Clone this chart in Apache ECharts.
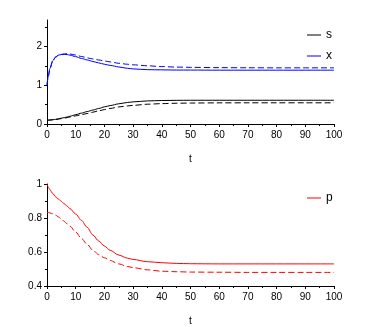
<!DOCTYPE html>
<html><head><meta charset="utf-8">
<script src="https://cdn.jsdelivr.net/npm/echarts@6/dist/echarts.min.js"></script>
<style>html,body{margin:0;padding:0;background:#fff}#c{width:382px;height:327px}</style>
</head><body><div id="c"></div>
<script>
// time points
const T = [0,0.5,1,2,3,4,5,6,7,8,10,12,14,16,18,20,22,25,28,30,35,40,45,50,60,70,80,90,100];
// top panel
const xSolid  = [1.0,1.25,1.43,1.63,1.73,1.775,1.79,1.795,1.79,1.775,1.735,1.69,1.65,1.61,1.575,1.54,1.51,1.47,1.435,1.42,1.40,1.395,1.39,1.39,1.387,1.387,1.387,1.387,1.387];
const xDashed = [1.0,1.24,1.42,1.62,1.72,1.77,1.795,1.805,1.81,1.805,1.775,1.74,1.705,1.675,1.65,1.625,1.60,1.565,1.54,1.525,1.50,1.48,1.467,1.46,1.452,1.449,1.447,1.447,1.447];
const sSolid  = [0.1,0.1,0.102,0.11,0.12,0.135,0.15,0.165,0.18,0.2,0.24,0.28,0.32,0.36,0.40,0.44,0.475,0.52,0.555,0.57,0.595,0.605,0.61,0.612,0.612,0.612,0.612,0.612,0.612];
const sDashed = [0.1,0.1,0.102,0.108,0.115,0.125,0.14,0.15,0.165,0.18,0.21,0.24,0.27,0.305,0.34,0.37,0.40,0.44,0.465,0.48,0.51,0.525,0.535,0.54,0.545,0.546,0.546,0.546,0.546];
// bottom panel
const pSolid  = [1.0,0.98,0.967,0.944,0.925,0.911,0.898,0.884,0.87,0.855,0.823,0.786,0.745,0.70,0.665,0.635,0.61,0.582,0.564,0.556,0.543,0.537,0.533,0.531,0.53,0.53,0.53,0.53,0.53];
const pDashed = [0.834,0.833,0.83,0.825,0.817,0.806,0.794,0.78,0.766,0.752,0.717,0.68,0.645,0.61,0.585,0.566,0.55,0.53,0.515,0.508,0.495,0.487,0.484,0.482,0.481,0.48,0.48,0.48,0.48];
// ticks
const xTicks = {min:0, max:100, interval:10};
const yTopTicks = [0,1,2];
const yBotTicks = [0.4,0.6,0.8,1.0];

function pairs(v){ return T.map((t,i)=>[t, v[i]]); }

const FONT = 'Liberation Sans, Arial, sans-serif';
function baseAxis(){
  return {
    axisLine:{show:true, onZero:false, lineStyle:{color:'#000', width:1}},
    axisTick:{show:true, inside:false, length:3, lineStyle:{color:'#000'}},
    minorTick:{show:true, splitNumber:2, length:2, lineStyle:{color:'#000'}},
    splitLine:{show:false},
    axisLabel:{color:'#000', fontSize:10, fontFamily:FONT}
  };
}
function xAx(gi){
  const a = baseAxis();
  return Object.assign(a, {
    type:'value', gridIndex:gi, min:xTicks.min, max:xTicks.max, interval:xTicks.interval,
    name:'t', nameLocation:'middle', nameGap:30,
    nameTextStyle:{color:'#000', fontSize:10, fontFamily:FONT},
    axisLabel:Object.assign(a.axisLabel,{margin:6})
  });
}
function yAx(gi, min, max, interval, vals){
  const a = baseAxis();
  a.axisTick.customValues = vals;
  return Object.assign(a, {
    type:'value', gridIndex:gi, min:min, max:max, interval:interval,
    axisLabel:Object.assign(a.axisLabel,{margin:5, customValues: vals})
  });
}
function line(name, data, color, dashed, xi){
  return {
    name:name, type:'line', xAxisIndex:xi, yAxisIndex:xi, data:pairs(data),
    showSymbol:false, symbol:'none', smooth:0.3, smoothMonotone:'x',
    lineStyle:{color:color, width:1, type: dashed ? [6,3] : 'solid'},
    itemStyle:{color:color}, z: dashed ? 2 : 3
  };
}
const legendCommon = {
  orient:'vertical', left:302, icon:'rect', itemWidth:14, itemHeight:1, itemGap:9,
  textStyle:{color:'#000', fontSize:12, fontFamily:FONT}, selectedMode:false
};
const chart = echarts.init(document.getElementById('c'), null, {renderer:'canvas'});
chart.setOption({
  animation:false,
  backgroundColor:'#fff',
  grid:[
    {left:47, width:287, top:20, height:104},
    {left:47, width:287, top:184, height:103.5}
  ],
  xAxis:[xAx(0), xAx(1)],
  yAxis:[yAx(0,0,2.68,1,yTopTicks), yAx(1,0.4,1.0,0.2,yBotTicks)],
  legend:[
    Object.assign({data:['s','x'], top:24}, legendCommon),
    Object.assign({data:['p'], top:187}, legendCommon)
  ],
  series:[
    line('s', sSolid, '#000000', false, 0),
    line('s dashed', sDashed, '#000000', true, 0),
    line('x', xSolid, '#0000ff', false, 0),
    line('x dashed', xDashed, '#0000ff', true, 0),
    line('p', pSolid, '#ff0000', false, 1),
    line('p dashed', pDashed, '#ff0000', true, 1)
  ]
});
</script>
</body></html>
